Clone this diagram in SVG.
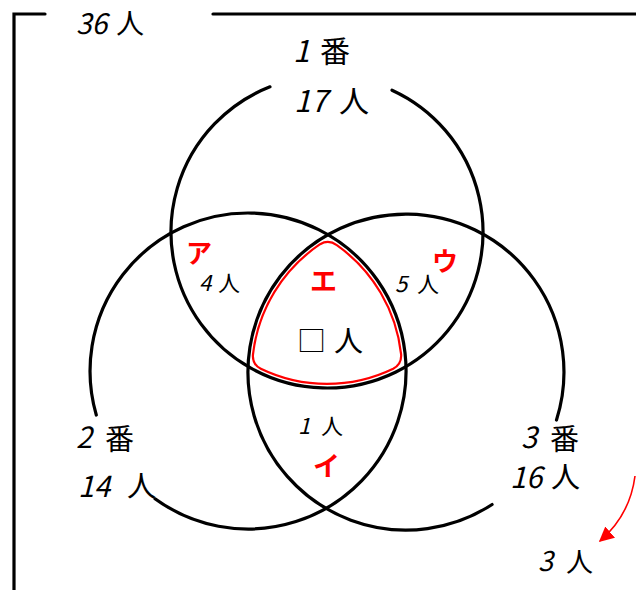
<svg xmlns="http://www.w3.org/2000/svg" width="636" height="590" viewBox="0 0 636 590">
<style>
.c{fill:none;stroke:#000;stroke-width:3.2;stroke-linecap:round}
.t{font-family:"Noto Sans CJK JP","Noto Sans",sans-serif;fill:#000}
.r{font-family:"Noto Sans CJK JP","Noto Sans",sans-serif;fill:#f00;font-weight:bold}
.d{font-style:italic}
</style>
<defs>
<marker id="ah" viewBox="0 0 10 10" refX="9" refY="5" markerWidth="15" markerHeight="15" markerUnits="userSpaceOnUse" orient="auto">
<path d="M0,0 L10,5 L0,10 Z" fill="#f00"/>
</marker>
</defs>
<rect width="636" height="590" fill="#fff"/>
<g id="frame">
<path d="M14,590 V14 H45" class="c" stroke-linecap="butt"/>
<path d="M213,14 H636" class="c" stroke-linecap="butt"/>
<text class="t" font-size="28"><tspan x="76" y="34" class="d">36</tspan><tspan x="116" y="34">人</tspan></text>
</g>
<g id="connectors">
<path d="M392,90.2 A156 156 0 1 1 270,86.8" class="c"/>
<path d="M96.3,415 A158 158 0 1 1 155,498.7" class="c"/>
<path d="M492.1,504.5 A158 158 0 1 1 556.5,420" class="c"/>
<path d="M320.1,244.2 A154 154 0 0 0 253,354.3 Q252,364.3 260.8,368.8 A152 152 0 0 0 393.2,368.8 Q401.9,364.2 401.1,354.2 A154 154 0 0 0 336.8,245.2 Q328.7,239.3 320.1,244.2 Z" fill="none" stroke="#f00" stroke-width="2.2"/>
<path d="M635,476 Q630,515 600,541" fill="none" stroke="#f00" stroke-width="1.6" marker-end="url(#ah)"/>
</g>
<g id="set1">
<text class="t" font-size="30"><tspan x="293" y="62" class="d">1</tspan><tspan x="320" y="62">番</tspan></text>
<text class="t" font-size="30"><tspan x="294" y="112" class="d">17</tspan><tspan x="339" y="112">人</tspan></text>
</g>
<g id="set2">
<text class="t" font-size="29"><tspan x="76" y="448" class="d">2</tspan><tspan x="105" y="450">番</tspan></text>
<text class="t" font-size="29"><tspan x="78" y="497" class="d">14</tspan><tspan x="127" y="497">人</tspan></text>
</g>
<g id="set3">
<text class="t" font-size="29"><tspan x="521" y="448" class="d">3</tspan><tspan x="550" y="450">番</tspan></text>
<text class="t" font-size="29"><tspan x="510" y="488" class="d">16</tspan><tspan x="551" y="488">人</tspan></text>
</g>
<g id="regionA">
<text class="r" font-size="26" x="186" y="263">ア</text>
<text class="t" font-size="22"><tspan x="199" y="291" class="d">4</tspan><tspan x="218" y="291">人</tspan></text>
</g>
<g id="regionU">
<text class="r" font-size="26" x="432" y="271">ウ</text>
<text class="t" font-size="22"><tspan x="395" y="292" class="d">5</tspan><tspan x="417" y="292">人</tspan></text>
</g>
<g id="regionE">
<text class="r" font-size="27" x="310" y="291">エ</text>
<text class="t" font-size="29"><tspan x="297" y="352">□</tspan><tspan x="334" y="352">人</tspan></text>
</g>
<g id="regionI">
<text class="t" font-size="22"><tspan x="298" y="434" class="d">1</tspan><tspan x="321" y="434">人</tspan></text>
<text class="r" font-size="27" x="313" y="476">イ</text>
</g>
<g id="outside">
<text class="t" font-size="27"><tspan x="538" y="571" class="d">3</tspan><tspan x="566" y="572">人</tspan></text>
</g>
</svg>
